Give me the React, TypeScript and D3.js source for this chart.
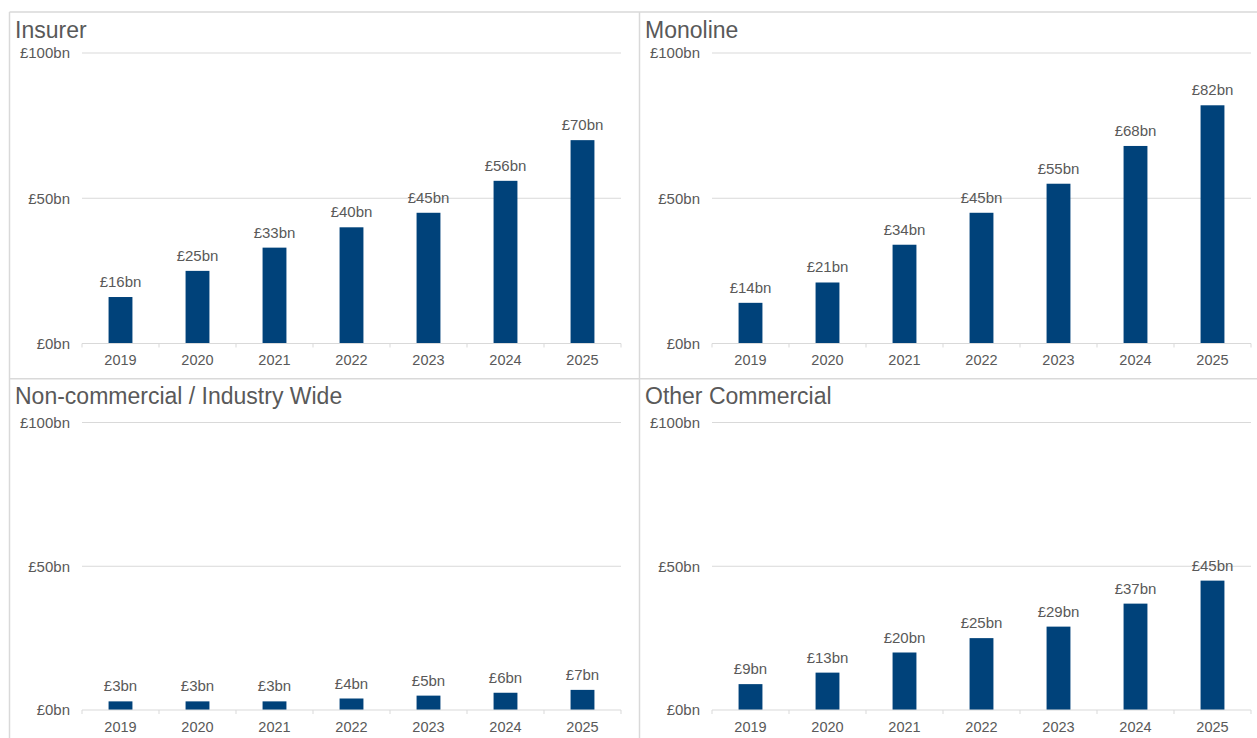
import React from "react";
import * as d3 from "d3";

// Gross flows (£bn) by counterparty type, 2019–2025
const years = ["2019", "2020", "2021", "2022", "2023", "2024", "2025"];
const insurer = [16, 25, 33, 40, 45, 56, 70];
const monoline = [14, 21, 34, 45, 55, 68, 82];
const nonCommercial = [3, 3, 3, 4, 5, 6, 7];
const otherCommercial = [9, 13, 20, 25, 29, 37, 45];
const panelTitles = ["Insurer", "Monoline", "Non-commercial / Industry Wide", "Other Commercial"];
const yTicks = [0, 50, 100];

const seriesList = [insurer, monoline, nonCommercial, otherCommercial];

const W = 1257;
const H = 738;
const colLeft = [9.5, 639.5];
const rows = [
  { top: 12, y100: 53, y0: 343.5 },
  { top: 378.7, y100: 422.5, y0: 710 },
];
const BORDER = "#d9d9d9";
const TEXT = "#595959";
const BAR = "#00427a";
const FONT = "'Liberation Sans', Arial, sans-serif";

const fmt = (v: number) => `£${v}bn`;

function Panel({ idx }: { idx: number }) {
  const col = idx % 2;
  const row = rows[Math.floor(idx / 2)];
  const L = colLeft[col];
  const plotLeft = L + 72.5;
  const plotRight = L + 611.5;
  const values = seriesList[idx];

  const x = d3
    .scaleBand<string>()
    .domain(years)
    .range([plotLeft, plotRight])
    .paddingInner(0.69)
    .paddingOuter(0.345);
  const y = d3.scaleLinear().domain([0, 100]).range([row.y0, row.y100]);
  const step = (plotRight - plotLeft) / years.length;

  return (
    <g>
      <text
        x={L + 5.5}
        y={row.top + 25.5}
        fontSize={23}
        fill={TEXT}
        fontFamily={FONT}
      >
        {panelTitles[idx]}
      </text>
      {yTicks.map((t) => (
        <g key={t}>
          {t > 0 && (
            <line x1={plotLeft} x2={plotRight} y1={y(t)} y2={y(t)} stroke={BORDER} strokeWidth={1} />
          )}
          <text
            x={plotLeft - 12}
            y={y(t)}
            dy="0.35em"
            textAnchor="end"
            fontSize={15}
            fill={TEXT}
            fontFamily={FONT}
          >
            {fmt(t)}
          </text>
        </g>
      ))}
      {values.map((v, i) => {
        const bx = x(years[i]) as number;
        return (
          <g key={years[i]}>
            <rect x={bx} y={y(v)} width={x.bandwidth()} height={y(0) - y(v)} fill={BAR} />
            <text
              x={bx + x.bandwidth() / 2}
              y={y(v) - 10}
              textAnchor="middle"
              fontSize={15}
              fill={TEXT}
              fontFamily={FONT}
            >
              {fmt(v)}
            </text>
            <text
              x={bx + x.bandwidth() / 2}
              y={row.y0 + 21.5}
              textAnchor="middle"
              fontSize={14.5}
              fill={TEXT}
              fontFamily={FONT}
            >
              {years[i]}
            </text>
          </g>
        );
      })}
      <line x1={plotLeft} x2={plotRight} y1={y(0)} y2={y(0)} stroke={BORDER} strokeWidth={1.2} />
      {d3.range(years.length + 1).map((i) => (
        <line
          key={i}
          x1={plotLeft + step * i}
          x2={plotLeft + step * i}
          y1={y(0)}
          y2={y(0) + 4}
          stroke={BORDER}
          strokeWidth={1}
        />
      ))}
    </g>
  );
}

export default function App() {
  return (
    <svg
      width={W}
      height={H}
      style={{ position: "absolute", left: 0, top: 0, background: "#fff" }}
    >
      <rect x={0} y={0} width={W} height={H} fill="#fff" />
      {/* panel frame */}
      <line x1={colLeft[0]} x2={W} y1={rows[0].top} y2={rows[0].top} stroke={BORDER} strokeWidth={1.5} />
      <line x1={colLeft[0]} x2={W} y1={rows[1].top} y2={rows[1].top} stroke={BORDER} strokeWidth={1.5} />
      <line x1={colLeft[0]} x2={colLeft[0]} y1={rows[0].top} y2={H} stroke={BORDER} strokeWidth={1.5} />
      <line x1={colLeft[1]} x2={colLeft[1]} y1={rows[0].top} y2={H} stroke={BORDER} strokeWidth={1.5} />
      {panelTitles.map((_, i) => (
        <Panel key={i} idx={i} />
      ))}
    </svg>
  );
}
